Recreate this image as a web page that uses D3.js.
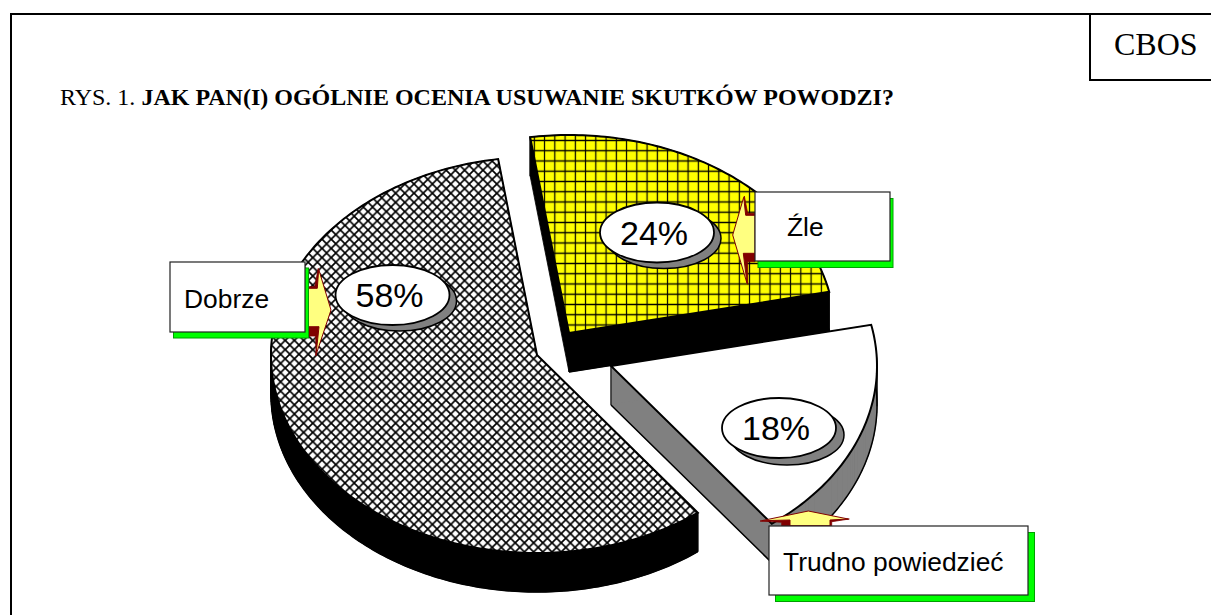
<!DOCTYPE html>
<html>
<head>
<meta charset="utf-8">
<script src="https://cdn.jsdelivr.net/npm/d3@7"></script>
<style>
  html, body { margin: 0; padding: 0; background: #fff; overflow: hidden; }
  svg { display: block; }
</style>
</head>
<body>
<script>
// data, clockwise from the first slice at the top of the pie
const categories = ["Źle", "Trudno powiedzieć", "Dobrze"];
const values = [24, 18, 58];
const pctLabels = ["24%", "18%", "58%"];
const titlePlain = "RYS. 1. ";
const titleBold = "JAK PAN(I) OGÓLNIE OCENIA USUWANIE SKUTKÓW POWODZI?";
const source = "CBOS";

const w = 1211;
const h = 615;
const rx = 266; // pie is an ellipse
const ry = 198;
const depth = 39;
const startAngle = -8.4 * Math.PI / 180;

// where each exploded slice has its tip, same order as categories
const tips = [[569, 333], [611, 366], [537, 355]];
const faceFill = ["url(#grid)", "#fff", "url(#cross)"];
const wallFill = ["#000", "#808080", "#000"];
const drawOrder = [1, 2, 0]; // yellow goes last, its black wall covers the white slice edge

// label boxes, bubble and the little block arrow of each slice
const boxes = [
  { x: 755, y: 192, w: 135, h: 69, dx: 3, dy: 6.5, tx: 787, ty: 236 },
  { x: 769, y: 526, w: 259, h: 69, dx: 6.5, dy: 6.5, tx: 783, ty: 571 },
  { x: 170, y: 262, w: 135, h: 70, dx: 3.5, dy: 6, tx: 184, ty: 308 }
];
const bubbles = [
  { cx: 657, cy: 232.5, dx: 7, dy: 6 },
  { cx: 779, cy: 428, dx: 8, dy: 7 },
  { cx: 392.5, cy: 295, dx: 7, dy: 6 }
];
const arrows = [
  {
    yellow: [[755, 215.3], [745.7, 215.3], [743.7, 197.3], [732.7, 235], [747, 283.3], [743.3, 253.3], [755, 253.3]],
    dark: [
      [[744.3, 196], [747.7, 213.3], [755, 213.3], [755, 216.7], [744.3, 216.7]],
      [[743.3, 253.3], [755, 253.3], [755, 261.7], [747.7, 261.7], [747.7, 284.3]]
    ]
  },
  {
    yellow: [[790, 525.7], [790, 520], [761.7, 520.7], [808.3, 511], [848.3, 519], [830, 520], [830, 525.7]],
    dark: [
      [[760, 521], [790, 519.7], [790, 525.7], [781.7, 525.7], [781.7, 522.3]],
      [[830, 520], [849.3, 519], [831.7, 521.7], [831.7, 525.7], [830, 525.7]]
    ]
  },
  {
    yellow: [[305, 288.3], [317.3, 288.3], [318.7, 269.3], [331, 310], [316, 355], [319, 326.7], [305, 326.7]],
    dark: [
      [[305, 286.7], [314.7, 286.7], [318.3, 268.3], [318.7, 290], [305, 290]],
      [[305, 326.7], [319, 326.7], [316, 356], [315.7, 336], [305, 336]]
    ]
  }
];

const svg = d3.select("body")
  .append("svg")
  .attr("width", w)
  .attr("height", h);

const defs = svg.append("defs");

// yellow square grid, lines sit mid tile so they are not cut in half
const grid = defs.append("pattern")
  .attr("id", "grid")
  .attr("patternUnits", "userSpaceOnUse")
  .attr("width", 10.25)
  .attr("height", 10.25)
  .attr("patternTransform", "translate(529.2,145.6)");
grid.append("rect").attr("width", 10.25).attr("height", 10.25).attr("fill", "#ffff00");
grid.append("path")
  .attr("d", "M0,5.125H10.25M5.125,0V10.25")
  .attr("stroke", "#000")
  .attr("stroke-width", 1.2);

// white diagonal cross hatch
const cross = defs.append("pattern")
  .attr("id", "cross")
  .attr("patternUnits", "userSpaceOnUse")
  .attr("width", 9.2)
  .attr("height", 9.2);
cross.append("rect").attr("width", 9.2).attr("height", 9.2).attr("fill", "#fff");
cross.append("path")
  .attr("d", "M0,0L9.2,9.2M9.2,0L0,9.2")
  .attr("stroke", "#000")
  .attr("stroke-width", 1.7);

// page frame, it runs off the picture on the right and at the bottom
svg.append("path")
  .attr("d", `M11,${h}V14H${w}`)
  .attr("fill", "none")
  .attr("stroke", "#000")
  .attr("stroke-width", 2);
svg.append("path")
  .attr("d", `M1090,14V80H${w}`)
  .attr("fill", "none")
  .attr("stroke", "#000")
  .attr("stroke-width", 2);
svg.append("text")
  .attr("x", 1114)
  .attr("y", 55)
  .style("font-family", "'Liberation Serif'")
  .style("font-size", "32px")
  .text(source);

const title = svg.append("text")
  .attr("x", 60)
  .attr("y", 105)
  .style("font-family", "'Liberation Serif'")
  .style("font-size", "24px");
title.append("tspan").text(titlePlain);
title.append("tspan").style("font-weight", "bold").text(titleBold);

// d3.pie gives the angles, the ellipse comes from the two scales
const arcs = d3.pie().sort(null).startAngle(startAngle).endAngle(startAngle + 2 * Math.PI)(values);
const line = d3.line().x(d => d[0]).y(d => d[1]);

function slicePoints(d, i) {
  const x = d3.scaleLinear().domain([-1, 1]).range([tips[i][0] - rx, tips[i][0] + rx]);
  const y = d3.scaleLinear().domain([-1, 1]).range([tips[i][1] - ry, tips[i][1] + ry]);
  const n = Math.ceil((d.endAngle - d.startAngle) * 60);
  const rim = d3.range(n + 1).map(k => {
    const a = d.startAngle + (d.endAngle - d.startAngle) * k / n;
    return [x(Math.sin(a)), y(-Math.cos(a))];
  });
  return { tip: tips[i], rim: rim };
}

const pie = svg.append("g");
drawOrder.forEach(i => {
  const p = slicePoints(arcs[i], i);
  const outline = [p.tip].concat(p.rim);
  const shifted = outline.map(q => [q[0], q[1] + depth]);
  const g = pie.append("g");

  // wall: all the quads go in one path, separate ones leave thin seams.
  // every quad has to wind the same way or the overlaps cancel out
  const wall = outline.map((q, k) => {
    const next = outline[(k + 1) % outline.length];
    const quad = [q, next, [next[0], next[1] + depth], [q[0], q[1] + depth]];
    if (d3.polygonArea(quad) < 0) quad.reverse();
    return line(quad) + "Z";
  }).join("");
  g.append("path")
    .attr("d", wall)
    .attr("fill", wallFill[i])
    .attr("fill-rule", "nonzero")
    .attr("stroke", wallFill[i])
    .attr("stroke-width", 0.8);

  // bottom edge of the wall, without the tip to first rim point part (it would show on the gray wall)
  g.append("path")
    .attr("d", line(shifted.slice(1).concat([shifted[0]])))
    .attr("fill", "none")
    .attr("stroke", "#000")
    .attr("stroke-width", 1.5);

  // upright edges where the wall turns away
  d3.extent(outline, q => q[0]).forEach(xx => {
    const q = outline.find(o => o[0] === xx);
    g.append("line")
      .attr("x1", q[0]).attr("y1", q[1])
      .attr("x2", q[0]).attr("y2", q[1] + depth)
      .attr("stroke", "#000")
      .attr("stroke-width", 1);
  });

  g.append("path")
    .attr("d", line(outline) + "Z")
    .attr("fill", faceFill[i])
    .attr("stroke", "#000")
    .attr("stroke-width", 2)
    .attr("stroke-linejoin", "miter");
});

// percent bubbles
const bubble = svg.selectAll("g.bubble")
  .data(bubbles)
  .enter()
  .append("g")
  .attr("class", "bubble");
bubble.append("ellipse")
  .attr("cx", d => d.cx + d.dx)
  .attr("cy", d => d.cy + d.dy)
  .attr("rx", 57)
  .attr("ry", 30)
  .attr("fill", "#808080")
  .attr("stroke", "#000")
  .attr("stroke-width", 1.5);
bubble.append("ellipse")
  .attr("cx", d => d.cx)
  .attr("cy", d => d.cy)
  .attr("rx", 57)
  .attr("ry", 30)
  .attr("fill", "#fff")
  .attr("stroke", "#000")
  .attr("stroke-width", 1.8);
bubble.append("text")
  .attr("x", d => d.cx - 3)
  .attr("y", d => d.cy + 12)
  .attr("text-anchor", "middle")
  .style("font-family", "'Liberation Sans'")
  .style("font-size", "34px")
  .text((d, i) => pctLabels[i]);

// block arrows from the label boxes
arrows.forEach(a => {
  a.dark.forEach(pts => {
    svg.append("path")
      .attr("d", line(pts) + "Z")
      .attr("fill", "#800000")
      .attr("stroke", "#800000")
      .attr("stroke-width", 0.8);
  });
  svg.append("path")
    .attr("d", line(a.yellow) + "Z")
    .attr("fill", "#ffff80")
    .attr("stroke", "#800000")
    .attr("stroke-width", 1);
});

// label boxes with green shadow
const box = svg.selectAll("g.box")
  .data(boxes)
  .enter()
  .append("g")
  .attr("class", "box");
box.append("rect")
  .attr("x", d => d.x + d.dx)
  .attr("y", d => d.y + d.dy)
  .attr("width", d => d.w)
  .attr("height", d => d.h)
  .attr("fill", "#00ff00")
  .attr("stroke", "#00a000")
  .attr("stroke-width", 1);
box.append("rect")
  .attr("x", d => d.x)
  .attr("y", d => d.y)
  .attr("width", d => d.w)
  .attr("height", d => d.h)
  .attr("fill", "#fff")
  .attr("stroke", "#222")
  .attr("stroke-width", 1.2);
box.append("text")
  .attr("x", d => d.tx)
  .attr("y", d => d.ty)
  .style("font-family", "'Liberation Sans'")
  .style("font-size", "26.4px")
  .text((d, i) => categories[i]);
</script>
</body>
</html>
